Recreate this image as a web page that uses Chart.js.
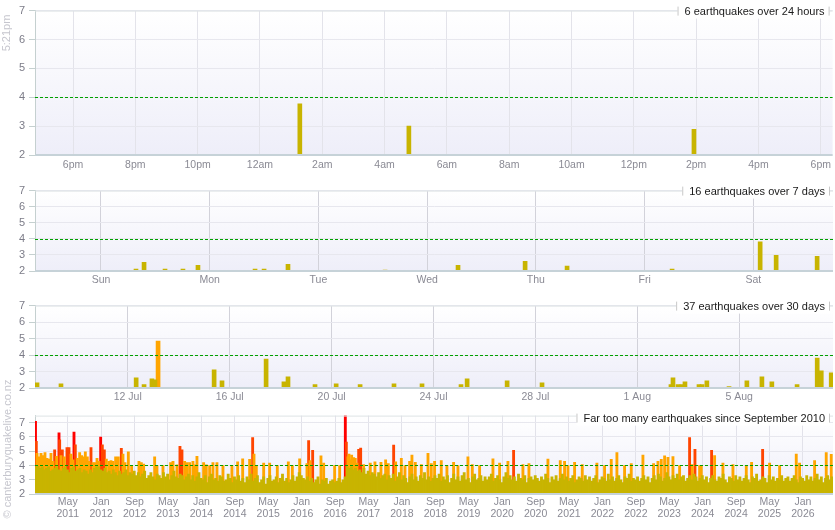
<!DOCTYPE html>
<html>
<head>
<meta charset="utf-8">
<script src="https://cdn.jsdelivr.net/npm/chart.js@4.4.0/dist/chart.umd.min.js"></script>
<style>
  html, body { margin: 0; padding: 0; background: #fff; }
  #wrap { position: relative; width: 835px; height: 530px; overflow: hidden; font-family: "Liberation Sans", Arial, sans-serif; }
  #wrap canvas { position: absolute; left: 0; }
  .side { position: absolute; color: #c6c6ce; font-size: 11px; white-space: nowrap; transform: translate(-50%, -50%) rotate(-90deg); }
</style>
</head>
<body>
<div id="wrap">
  <canvas id="c24" width="835" height="180" style="top:0"></canvas>
  <canvas id="c7" width="835" height="115" style="top:180px"></canvas>
  <canvas id="c30" width="835" height="110" style="top:295px"></canvas>
  <canvas id="cAll" width="835" height="125" style="top:405px"></canvas>
  <span class="side" style="left:6px; top:33px">5:21pm</span>
  <span class="side" style="left:7px; top:449px">© canterburyquakelive.co.nz</span>
</div>
<script>
// ---- last 24 hours (hours after midnight) ----
const dayTimes = [1.28, 4.78, 13.93];
const dayMags = [3.77, 3.0, 2.89];
const dayTicks = [-6, -4, -2, 0, 2, 4, 6, 8, 10, 12, 14, 16, 18];
const dayLabels = ['6pm', '8pm', '10pm', '12am', '2am', '4am', '6am', '8am', '10am', '12pm', '2pm', '4pm', '6pm'];

// ---- last 7 days (days after Sunday 00:00) ----
const weekTimes = [0.322, 0.396, 0.589, 0.754, 0.892, 1.417, 1.5, 1.72, 2.613, 3.284, 3.901, 4.287, 5.253, 6.063, 6.21, 6.587];
const weekMags = [2.12, 2.54, 2.12, 2.12, 2.36, 2.12, 2.12, 2.42, 2.06, 2.36, 2.6, 2.3, 2.12, 3.81, 2.97, 2.91];
const weekTicks = [0, 1, 2, 3, 4, 5, 6];
const weekLabels = ['Sun', 'Mon', 'Tue', 'Wed', 'Thu', 'Fri', 'Sat'];

// ---- last 30 days (day of July, 1 Aug = 32) ----
const monthTimes = [8.44, 9.38, 12.33, 12.64, 12.95, 13.07, 13.19, 15.39, 15.7, 17.43, 18.13, 18.29,
  19.35, 20.18, 21.12, 22.45, 23.55, 25.08, 25.32, 26.89, 28.26, 33.32, 33.4, 33.6, 33.75, 33.87,
  34.42, 34.54, 34.73, 35.6, 36.3, 36.89, 37.28, 38.27, 39.06, 39.22, 39.61];
const monthMags = [2.32, 2.26, 2.62, 2.2, 2.56, 2.5, 4.84, 3.1, 2.44, 3.76, 2.38, 2.68,
  2.2, 2.26, 2.2, 2.26, 2.26, 2.2, 2.56, 2.44, 2.32, 2.2, 2.62, 2.2, 2.2, 2.38,
  2.2, 2.2, 2.44, 2.08, 2.44, 2.68, 2.38, 2.2, 3.82, 3.04, 2.92];
const monthTicks = [12, 16, 20, 24, 28, 32, 36];
const monthLabels = ['12 Jul', '16 Jul', '20 Jul', '24 Jul', '28 Jul', '1 Aug', '5 Aug'];

// ---- since September 2010 ----
// typical largest quake per half month, starting Sep 2010
const longStart = 2010.68;
const longBase = [
  3.9, 3.95, 3.8, 3.9, 3.7, 3.8, 3.9, 3.6, 3.7, 3.8, 3.9, 3.7, 3.6, 3.8, 3.9, 3.7, 3.5, 3.8, 3.9, 3.6, 3.7, 3.8, 3.5, 3.7,
  3.6, 3.4, 3.7, 3.5, 3.8, 3.9, 3.9, 3.7, 3.6, 3.8, 3.5, 3.6, 3.4, 3.7, 3.5, 3.3, 3.6, 3.4, 3.5, 3.7, 3.3, 3.5, 3.4, 3.6,
  3.3, 3.5, 3.2, 3.4, 3.6, 3.1, 3.3, 3.5, 3.2, 3.0, 3.4, 3.3, 3.1, 3.5, 3.2, 3.4, 3.0, 3.3, 3.6, 3.2, 3.1, 3.4, 3.3, 3.0,
  3.2, 3.4, 3.0, 3.3, 2.9, 3.2, 3.5, 3.1, 3.0, 3.3, 2.8, 3.2, 3.4, 3.0, 3.1, 2.9, 3.3, 3.2, 2.9, 3.0, 3.4, 3.1, 2.8, 3.2,
  3.0, 3.3, 2.9, 3.1, 2.8, 3.2, 3.0, 3.4, 2.9, 3.1, 3.3, 2.8, 3.0, 3.2, 2.7, 3.1, 3.3, 2.9, 3.0, 3.2, 2.8, 3.1, 3.4, 2.9,
  3.1, 2.8, 3.0, 3.3, 2.9, 3.2, 3.5, 3.3, 3.1, 3.0, 3.2, 2.9, 3.1, 2.8, 3.0, 3.2, 2.7, 3.0, 2.9, 3.1, 2.7, 2.9, 3.0, 2.8,
  2.9, 3.1, 2.8, 3.0, 3.2, 3.9, 3.8, 3.9, 3.7, 3.8, 3.6, 3.7, 3.5, 3.8, 3.4, 3.6, 3.3, 3.5, 3.4, 3.2, 3.5, 3.1, 3.3, 3.4,
  3.0, 3.3, 3.1, 3.4, 2.9, 3.2, 3.5, 3.0, 3.3, 3.1, 2.8, 3.2, 3.4, 3.0, 3.2, 2.9, 3.3, 3.1, 3.5, 3.0, 3.2, 2.9, 3.1, 3.3,
  3.1, 3.4, 2.9, 3.2, 3.0, 3.3, 2.8, 3.1, 3.4, 3.0, 3.2, 2.9, 3.3, 3.5, 3.0, 3.1, 2.8, 3.2, 3.4, 3.0, 3.1, 3.3, 2.9, 3.2,
  3.0, 3.2, 3.4, 2.9, 3.1, 3.3, 3.0, 2.8, 3.2, 3.5, 3.1, 3.3, 3.0, 3.2, 2.9, 3.4, 3.1, 3.0, 3.3, 2.8, 3.1, 3.2, 3.0, 3.3,
  3.1, 2.9, 3.2, 3.0, 3.4, 3.1, 2.8, 3.2, 3.0, 3.3, 2.9, 3.1, 3.4, 3.0, 3.2, 2.9, 3.1, 3.3, 2.8, 3.0, 3.2, 3.1, 2.9, 3.3,
  3.0, 3.2, 2.9, 3.1, 3.3, 2.8, 3.0, 3.2, 3.1, 2.9, 3.4, 3.0, 3.2, 2.9, 3.1, 3.3, 3.0, 2.8, 3.2, 3.1, 3.4, 2.9, 3.1, 3.0,
  3.2, 2.9, 3.1, 3.3, 3.0, 3.2, 2.8, 3.1, 3.3, 3.0, 3.4, 3.2, 2.9, 3.1, 3.5, 3.2, 3.0, 3.3, 3.1, 3.4, 3.0, 3.2, 3.3, 2.9,
  3.1, 3.3, 3.0, 3.4, 3.2, 2.9, 3.1, 3.3, 3.0, 3.2, 2.8, 3.1, 3.3, 3.0, 2.9, 3.2, 3.1, 3.4, 3.0, 2.8, 3.2, 3.1, 2.9, 3.3,
  3.0, 3.2, 2.9, 3.1, 3.3, 3.0, 2.8, 3.2, 3.1, 3.4, 2.9, 3.0, 3.2, 3.1, 2.8, 3.3, 3.0, 3.2, 2.9, 3.1, 3.0, 3.3, 2.9, 3.1,
  3.2, 2.9, 3.1, 3.3, 3.0, 2.8, 3.2, 3.1, 2.9, 3.3, 3.0, 3.2, 2.9, 3.1, 3.4, 3.0, 3.2, 2.8, 3.1, 3.3, 3.0, 3.2
];
// bigger quakes (decimal year, magnitude)
const longTimes = [
  2010.69, 2010.706, 2010.72, 2010.76, 2010.80, 2010.84, 2010.879, 2010.919, 2010.959, 2010.999,
  2011.039, 2011.072, 2011.112, 2011.159, 2011.172, 2011.199, 2011.225, 2011.265, 2011.318, 2011.358,
  2011.398, 2011.438, 2011.458, 2011.484, 2011.524, 2011.571, 2011.611, 2011.651, 2011.684, 2011.724,
  2011.757, 2011.797, 2011.837, 2011.877, 2011.917, 2011.957, 2011.99, 2012.023, 2012.063, 2012.103,
  2012.156, 2012.196, 2012.236, 2012.289, 2012.342, 2012.402, 2012.435, 2012.475, 2012.542, 2012.608,
  2012.754, 2012.801, 2012.847, 2013.067, 2013.113, 2013.233, 2013.386, 2013.433, 2013.512, 2013.572,
  2013.612, 2013.665, 2013.712, 2013.765, 2013.831, 2013.871, 2013.911, 2014.044, 2014.097, 2014.164,
  2014.23, 2014.31, 2014.43, 2014.609,
  2014.723, 2014.823, 2014.962, 2015.022, 2015.049, 2015.095, 2015.242, 2015.361, 2015.514, 2015.734,
  2015.814, 2015.96, 2016.106, 2016.139, 2016.166, 2016.219, 2016.385, 2016.439, 2016.658, 2016.758,
  2016.871, 2016.891, 2016.924, 2016.944, 2016.964, 2016.997, 2017.017, 2017.037, 2017.07, 2017.103,
  2017.137, 2017.177, 2017.236, 2017.369, 2017.462, 2017.582, 2017.675, 2017.728, 2017.835, 2017.875,
  2017.988, 2018.061, 2018.154, 2018.2, 2018.267, 2018.387, 2018.52, 2018.586,
  2018.652, 2018.785, 2018.898, 2019.031, 2019.118, 2019.317, 2019.404, 2019.55, 2019.816, 2019.949,
  2020.115, 2020.228, 2020.414, 2020.534, 2020.913, 2021.159, 2021.245, 2021.312, 2021.445, 2021.598,
  2021.89, 2022.043, 2022.176, 2022.289, 2022.442, 2022.575,
  2022.808, 2023.021, 2023.108, 2023.174, 2023.241, 2023.307, 2023.407, 2023.54, 2023.739, 2023.793,
  2023.846, 2023.939, 2023.972, 2024.178, 2024.238, 2024.404, 2024.604, 2024.87, 2024.976, 2025.196,
  2025.335, 2025.535, 2025.867, 2025.933, 2026.233, 2026.465, 2026.565
];
const longMags = [
  7.1, 5.7, 4.85, 4.6, 4.85, 4.7, 4.9, 4.5, 4.45, 4.85,
  4.3, 5.1, 4.65, 6.3, 5.8, 4.7, 5.1, 4.6, 5.25, 5.25,
  4.8, 4.4, 6.35, 5.45, 4.5, 4.9, 4.7, 4.6, 4.95, 4.6,
  4.3, 5.25, 4.2, 4.2, 4.5, 4.3, 6.0, 5.45, 5.1, 4.45,
  4.3, 4.35, 4.3, 4.6, 4.6, 5.2, 4.8, 4.2, 4.95, 4.0,
  4.3, 4.2, 4.1, 4.6, 4.0, 4.0, 4.2, 4.3, 4.05, 5.35,
  5.1, 4.3, 4.2, 4.2, 4.3, 4.05, 4.65, 4.2, 4.05, 4.0,
  4.2, 4.2, 4.0, 4.0,
  4.26, 4.47, 4.44, 5.95, 4.8, 4.0, 4.17, 4.17, 4.0, 4.26,
  4.0, 4.47, 4.13, 5.74, 4.35, 5.07, 4.67, 4.17, 4.0, 4.0,
  7.8, 5.65, 4.6, 4.8, 4.4, 4.73, 4.3, 4.55, 4.5, 4.17,
  5.14, 5.23, 4.06, 4.17, 4.26, 4.22, 4.4, 4.13, 5.43, 4.26,
  4.51, 4.0, 4.29, 4.73, 4.22, 4.06, 4.85, 4.13,
  4.29, 4.35, 4.0, 4.22, 4.0, 4.6, 4.06, 4.0, 4.47, 4.17,
  4.3, 5.07, 4.06, 4.13, 4.45, 4.35, 4.29, 4.0, 4.22, 4.06,
  4.17, 4.0, 4.44, 4.9, 4.0, 4.13,
  4.73, 4.13, 4.29, 4.44, 4.67, 4.58, 4.62, 4.0, 5.95, 4.06,
  5.14, 4.0, 4.0, 5.07, 4.7, 4.17, 4.06, 4.0, 4.22, 5.14,
  4.17, 4.0, 4.8, 4.17, 4.35, 4.9, 4.78
];
const longTicks = [2011.333, 2012, 2012.667, 2013.333, 2014, 2014.667, 2015.333, 2016, 2016.667, 2017.333,
  2018, 2018.667, 2019.333, 2020, 2020.667, 2021.333, 2022, 2022.667, 2023.333, 2024, 2024.667, 2025.333, 2026];
const longLabels = [['May', '2011'], ['Jan', '2012'], ['Sep', '2012'], ['May', '2013'], ['Jan', '2014'], ['Sep', '2014'],
  ['May', '2015'], ['Jan', '2016'], ['Sep', '2016'], ['May', '2017'], ['Jan', '2018'], ['Sep', '2018'], ['May', '2019'],
  ['Jan', '2020'], ['Sep', '2020'], ['May', '2021'], ['Jan', '2022'], ['Sep', '2022'], ['May', '2023'], ['Jan', '2024'],
  ['Sep', '2024'], ['May', '2025'], ['Jan', '2026']];

const alertLevel = 4;

Chart.defaults.font.family = '"Liberation Sans", Arial, sans-serif';

const colours = ['#c8b400', '#ffa500', '#ff4500', '#ff0000'];
function magColour(m) {
  if (m >= 6) return colours[3];
  if (m >= 5) return colours[2];
  if (m >= 4) return colours[1];
  return colours[0];
}

// one dataset per colour so the small ones sit in front of the big ones
function quakeSets(times, mags, thickness) {
  const pts = times.map((t, i) => ({ x: t, y: mags[i] }));
  return colours.map(c => ({
    data: pts.filter(p => magColour(p.y) === c),
    backgroundColor: c,
    barThickness: thickness,
    grouped: false
  }));
}

const panelPlugin = {
  id: 'panel',
  beforeDraw(chart) {
    const { ctx, chartArea: a } = chart;
    const g = ctx.createLinearGradient(0, a.top, 0, a.bottom);
    g.addColorStop(0, '#ffffff');
    g.addColorStop(1, '#eeeef9');
    ctx.save();
    ctx.fillStyle = g;
    ctx.fillRect(a.left, a.top, a.right - a.left, a.bottom - a.top);
    ctx.restore();
  },
  afterDatasetsDraw(chart) {
    const { ctx, chartArea: a, scales } = chart;
    const yy = Math.round(scales.y.getPixelForValue(alertLevel)) + 0.5;
    ctx.save();
    ctx.strokeStyle = '#00a000';
    ctx.lineWidth = 1;
    ctx.setLineDash([3, 2]);
    ctx.beginPath();
    ctx.moveTo(a.left, yy);
    ctx.lineTo(a.right, yy);
    ctx.stroke();
    ctx.setLineDash([]);
    // top edge and bottom axis
    ctx.strokeStyle = '#dde3e5';
    ctx.beginPath();
    ctx.moveTo(a.left, a.top + 0.5);
    ctx.lineTo(a.right, a.top + 0.5);
    ctx.stroke();
    ctx.strokeStyle = '#c6d2d8';
    ctx.lineWidth = 2;
    ctx.beginPath();
    ctx.moveTo(a.left, a.bottom);
    ctx.lineTo(a.right, a.bottom);
    ctx.stroke();
    ctx.restore();
  },
  afterDraw(chart, args, opts) {
    const { ctx, chartArea: a } = chart;
    ctx.save();
    ctx.font = '11px "Liberation Sans", Arial, sans-serif';
    const w = ctx.measureText(opts.title).width;
    const right = a.right - 8;
    const cy = a.top + opts.dy;
    ctx.fillStyle = '#fff';
    ctx.fillRect(right - w - 7, cy - 7, w + 12, 14);
    ctx.fillStyle = '#1a1a1a';
    ctx.textAlign = 'right';
    ctx.textBaseline = 'middle';
    ctx.fillText(opts.title, right, cy);
    ctx.strokeStyle = '#c8c8c8';
    ctx.lineWidth = 1;
    ctx.beginPath();
    ctx.moveTo(right - w - 6.5, cy - 5);
    ctx.lineTo(right - w - 6.5, cy + 4);
    ctx.moveTo(right + 4.5, cy - 5);
    ctx.lineTo(right + 4.5, cy + 4);
    ctx.stroke();
    ctx.restore();
  }
};

function makeChart(id, datasets, cfg) {
  return new Chart(document.getElementById(id), {
    type: 'bar',
    data: { datasets },
    options: {
      responsive: false,
      animation: false,
      events: [],
      layout: { padding: { top: cfg.padTop, right: 2, left: 0, bottom: 0 } },
      plugins: {
        legend: { display: false },
        tooltip: { enabled: false },
        panel: { title: cfg.title, dy: cfg.titleDy }
      },
      scales: {
        x: {
          type: 'linear',
          min: cfg.min,
          max: cfg.max,
          offset: false,
          afterBuildTicks: s => { s.ticks = cfg.ticks.map(v => ({ value: v })); },
          afterFit: s => { s.height = cfg.axisH; },
          ticks: {
            autoSkip: false,
            maxRotation: 0,
            padding: cfg.labelPad,
            color: '#8a8a94',
            font: { size: 10.5, lineHeight: 1.15 },
            callback: (v, i) => cfg.labels[i]
          },
          grid: { color: cfg.vgrid, drawTicks: false, offset: false },
          border: { display: false }
        },
        y: {
          min: 2,
          max: cfg.yMax,
          beginAtZero: false,
          afterFit: s => { s.width = 35; },
          ticks: { stepSize: 1, autoSkip: false, includeBounds: false, padding: 4, color: '#7c7c88', font: { size: 11 } },
          grid: { color: '#e7e7ee', tickColor: '#c5d0d0', tickLength: 6 },
          border: { color: '#c5d0d0' }
        }
      }
    },
    plugins: [panelPlugin]
  });
}

makeChart('c24', quakeSets(dayTimes, dayMags, 4), {
  title: '6 earthquakes over 24 hours', titleDy: 1,
  min: -7.22, max: 18.38, ticks: dayTicks, labels: dayLabels,
  padTop: 8, axisH: 25, labelPad: 4, yMax: 7, vgrid: '#e3e3ea'
});

makeChart('c7', quakeSets(weekTimes, weekMags, 4), {
  title: '16 earthquakes over 7 days', titleDy: 1,
  min: -0.607, max: 6.733, ticks: weekTicks, labels: weekLabels,
  padTop: 8, axisH: 24, labelPad: 3, yMax: 7, vgrid: '#d2d2da'
});

makeChart('c30', quakeSets(monthTimes, monthMags, 4), {
  title: '37 earthquakes over 30 days', titleDy: 1,
  min: 8.36, max: 39.68, ticks: monthTicks, labels: monthLabels,
  padTop: 10, axisH: 17, labelPad: 3, yMax: 7, vgrid: '#d2d2da'
});

const baseTimes = longBase.map((v, i) => longStart + (i + 0.5) / 24);
makeChart('cAll', quakeSets(baseTimes.concat(longTimes), longBase.concat(longMags), 2.2), {
  title: 'Far too many earthquakes since September 2010', titleDy: 3,
  min: longStart, max: 2026.60, ticks: longTicks, labels: longLabels,
  padTop: 7, axisH: 36, labelPad: 2, yMax: 7.5, vgrid: '#e2e2ea'
});
</script>
</body>
</html>
